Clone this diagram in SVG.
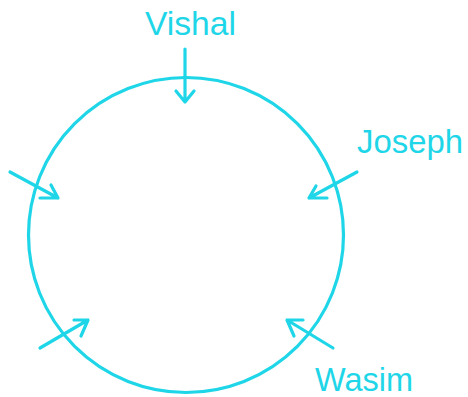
<svg xmlns="http://www.w3.org/2000/svg" width="468" height="397" viewBox="0 0 468 397">
<style>
.c{fill:none;stroke:#1fd6e8;stroke-width:3.2;stroke-linecap:round;stroke-linejoin:round}
.t{fill:#1fd6e8;font-family:"Liberation Sans",Arial,sans-serif;font-size:34px}
</style>
<rect width="468" height="397" fill="#fff"/>
<g id="circle"><circle class="c" cx="186" cy="235" r="157.5"/></g>
<g id="vishal"><text class="t" x="145" y="35" textLength="91" lengthAdjust="spacingAndGlyphs">Vishal</text></g>
<g id="joseph"><text class="t" x="357" y="153" textLength="106" lengthAdjust="spacingAndGlyphs">Joseph</text></g>
<g id="wasim"><text class="t" x="315" y="391" textLength="98" lengthAdjust="spacingAndGlyphs">Wasim</text></g>
<g id="connectors">
<path class="c" d="M185 49V102M176 91L185 102L194 91"/>
<path class="c" d="M357 172L309 198M327 198H309L316 186"/>
<path class="c" d="M10 172L58 198M40 198H58L51 185"/>
<path class="c" d="M40 348L88 320M74 320H88L81 336"/>
<path class="c" d="M333 348L287 320M303 320H287L294 336"/>
</g>
</svg>
